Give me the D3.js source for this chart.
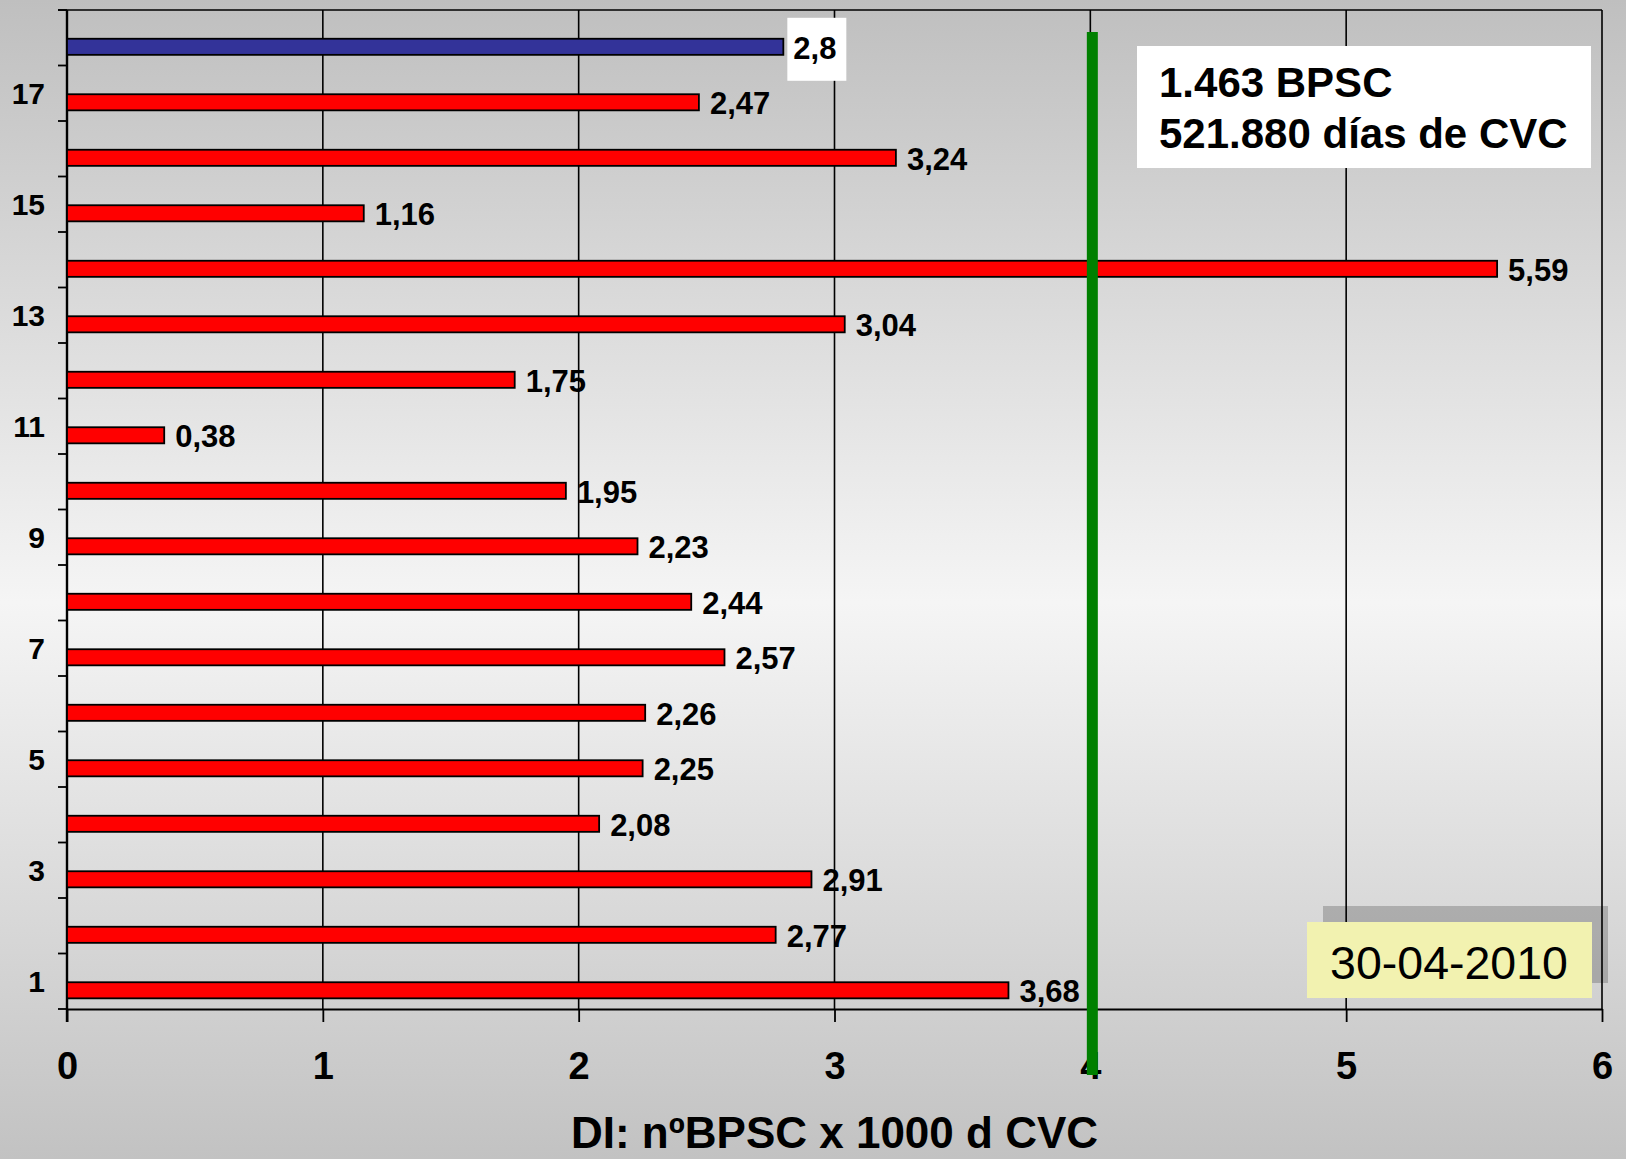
<!DOCTYPE html>
<html>
<head>
<meta charset="utf-8">
<script src="https://cdn.jsdelivr.net/npm/d3@7"></script>
<style>
  html, body { margin: 0; padding: 0; background: #c8c8c8; }
  svg { display: block; }
  text { font-family: "Liberation Sans", Arial, sans-serif; }
</style>
</head>
<body>
<svg id="chart" width="1626" height="1159"></svg>
<script>
// Unidades 1..18: densidad de incidencia de BPSC por 1000 días de CVC
const categories = d3.range(1, 19);
const values = [3.68, 2.77, 2.91, 2.08, 2.25, 2.26, 2.57, 2.44, 2.23, 1.95,
                0.38, 1.75, 3.04, 5.59, 1.16, 3.24, 2.47, 2.8];
const highlighted = [18];             // barra global (azul)
const yTickLabels = [1, 3, 5, 7, 9, 11, 13, 15, 17];
const xTicks = [0, 1, 2, 3, 4, 5, 6];
const referenceValue = [4];           // estándar de referencia
const summaryLines = ["1.463 BPSC", "521.880 días de CVC"];
const dateLabel = ["30-04-2010"];
const axisTitle = ["DI: nºBPSC x 1000 d CVC"];

const W = 1626, H = 1159;
const m = { left: 67, right: 24, top: 10, bottom: 150 };
const svg = d3.select("#chart");

// background gradient
const defs = svg.append("defs");
const grad = defs.append("linearGradient").attr("id", "bg")
  .attr("x1", 0).attr("y1", 0).attr("x2", 0).attr("y2", 1);
grad.append("stop").attr("offset", "0%").attr("stop-color", "#bfbfbf");
grad.append("stop").attr("offset", "52%").attr("stop-color", "#f5f5f5");
grad.append("stop").attr("offset", "100%").attr("stop-color", "#c2c2c2");
svg.append("rect").attr("width", W).attr("height", H).attr("fill", "url(#bg)");

const x = d3.scaleLinear().domain([0, 6]).range([m.left, W - m.right]);
const y = d3.scaleBand().domain(categories.slice().reverse())
  .range([m.top, H - m.bottom]).padding(0);
const bw = y.bandwidth();
const barH = bw * 0.29;
const barTop = c => y(c) + bw / 2 + 1;
const barMid = c => barTop(c) + barH / 2;

const fmt = d3.formatLocale({ decimal: ",", thousands: ".", grouping: [3], currency: ["", ""] })
  .format("~r");

// vertical gridlines
svg.append("g").selectAll("line").data(xTicks.slice(1))
  .join("line")
  .attr("x1", d => x(d)).attr("x2", d => x(d))
  .attr("y1", m.top).attr("y2", H - m.bottom)
  .attr("stroke", "#000").attr("stroke-width", 1.6);

// top border
svg.append("line")
  .attr("x1", m.left - 9).attr("x2", x(6))
  .attr("y1", m.top).attr("y2", m.top)
  .attr("stroke", "#000").attr("stroke-width", 1.6);

// x axis
const xAxis = svg.append("g")
  .attr("transform", `translate(0,${H - m.bottom})`)
  .call(d3.axisBottom(x).tickValues(xTicks).tickFormat(d3.format("d"))
    .tickSize(13).tickSizeOuter(0).tickPadding(30));
xAxis.select(".domain").attr("stroke", "#000").attr("stroke-width", 2.2);
xAxis.selectAll(".tick line").attr("stroke", "#000").attr("stroke-width", 1.8);
xAxis.selectAll(".tick text")
  .attr("fill", "#000").attr("font-size", 38).attr("font-weight", "bold")
  .attr("font-family", "Liberation Sans, Arial, sans-serif");

// y axis: ticks at band boundaries, labels on odd categories
const yAxisG = svg.append("g");
const bounds = categories.map(c => y(c)).concat([H - m.bottom]);
yAxisG.selectAll("line.tk").data(bounds).join("line")
  .attr("class", "tk")
  .attr("x1", m.left - 9).attr("x2", m.left)
  .attr("y1", d => d).attr("y2", d => d)
  .attr("stroke", "#000").attr("stroke-width", 1.8);
yAxisG.append("line")
  .attr("x1", m.left).attr("x2", m.left)
  .attr("y1", m.top).attr("y2", H - m.bottom + 13)
  .attr("stroke", "#000").attr("stroke-width", 2.4);
yAxisG.selectAll("text").data(yTickLabels).join("text")
  .attr("x", 45).attr("y", d => y(d) + bw / 2 + 10.5)
  .attr("text-anchor", "end")
  .attr("font-size", 30).attr("font-weight", "bold").attr("fill", "#000")
  .text(d => d);

// bars
const data = categories.map((c, i) => ({ c, v: values[i] }));
svg.append("g").selectAll("rect").data(data).join("rect")
  .attr("x", x(0))
  .attr("y", d => barTop(d.c))
  .attr("width", d => x(d.v) - x(0))
  .attr("height", barH)
  .attr("fill", d => highlighted.includes(d.c) ? "#333399" : "#ff0000")
  .attr("stroke", "#000").attr("stroke-width", 1.8);

// white box behind the highlighted value
svg.append("g").selectAll("rect").data(data.filter(d => highlighted.includes(d.c)))
  .join("rect")
  .attr("x", d => x(d.v) + 4).attr("y", d => barMid(d.c) - 29)
  .attr("width", 59).attr("height", 63).attr("fill", "#fff");

// value labels
svg.append("g").selectAll("text").data(data).join("text")
  .attr("x", d => x(d.v) + (highlighted.includes(d.c) ? 10 : 11))
  .attr("y", d => barMid(d.c) + 12)
  .attr("font-size", 31).attr("font-weight", "bold").attr("fill", "#000")
  .text(d => fmt(d.v));

// summary box
const sb = svg.append("g");
sb.append("rect").attr("x", 1137).attr("y", 46).attr("width", 454).attr("height", 122)
  .attr("fill", "#fff");
sb.selectAll("text").data(summaryLines).join("text")
  .attr("x", 1159).attr("y", (d, i) => 97 + i * 51)
  .attr("font-size", 42).attr("font-weight", "bold").attr("fill", "#000")
  .text(d => d);

// date box with shadow
const db = svg.append("g");
db.append("rect").attr("x", 1323).attr("y", 906).attr("width", 285).attr("height", 77)
  .attr("fill", "#000").attr("fill-opacity", 0.2);
db.append("rect").attr("x", 1307).attr("y", 922).attr("width", 285).attr("height", 76)
  .attr("fill", "#f2f2b0");
db.selectAll("text").data(dateLabel).join("text")
  .attr("x", 1449).attr("y", 979).attr("text-anchor", "middle")
  .attr("font-size", 46.5).attr("fill", "#000")
  .text(d => d);

// reference line
svg.append("g").selectAll("line").data(referenceValue).join("line")
  .attr("x1", d => x(d) + 2).attr("x2", d => x(d) + 2)
  .attr("y1", 32).attr("y2", 1075)
  .attr("stroke", "#008000").attr("stroke-width", 11);

// axis title
svg.append("g").selectAll("text").data(axisTitle).join("text")
  .attr("x", (x(0) + x(6)) / 2).attr("y", 1148)
  .attr("text-anchor", "middle")
  .attr("font-size", 44).attr("font-weight", "bold").attr("fill", "#000")
  .text(d => d);
</script>
</body>
</html>
